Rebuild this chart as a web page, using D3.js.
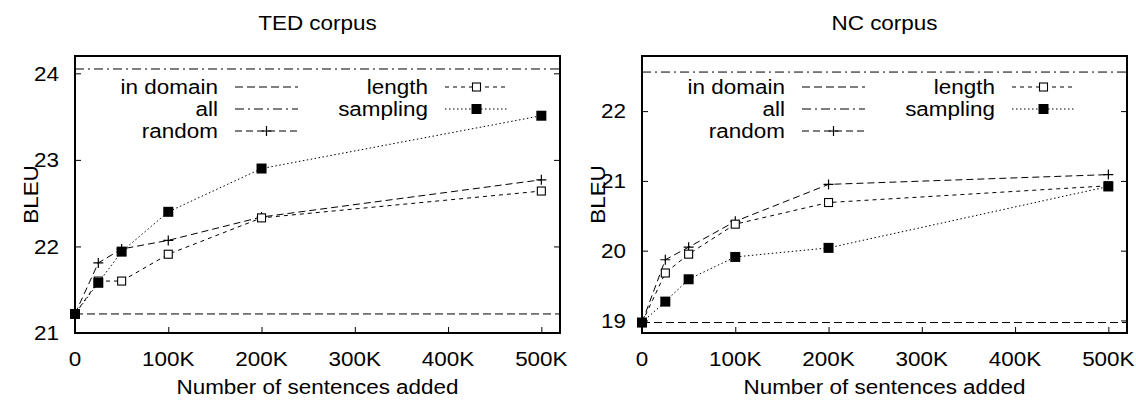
<!DOCTYPE html>
<html><head><meta charset="utf-8">
<script src="https://cdn.jsdelivr.net/npm/d3@7"></script>
<style>body{margin:0;background:#fff}svg{display:block}text{font-family:"Liberation Sans",Arial,sans-serif;fill:#000}</style>
</head><body><svg id="c" width="1136" height="405"></svg>
<script>
const xVals = [0, 25000, 50000, 100000, 200000, 500000];
const xTicks = [0, 100000, 200000, 300000, 400000, 500000];
const xTickLabels = ["0", "100K", "200K", "300K", "400K", "500K"];
const titles = ["TED corpus", "NC corpus"];
const seriesNames = ["in domain", "all", "random", "length", "sampling"];

const tedInDomain = 21.22;
const tedAll = 24.05;
const tedRandom = [21.22, 21.81, 21.97, 22.07, 22.34, 22.77];
const tedLength = [21.22, 21.60, 21.60, 21.91, 22.33, 22.64];
const tedSampling = [21.22, 21.58, 21.94, 22.40, 22.90, 23.51];
const tedYTicks = [21, 22, 23, 24];

const ncInDomain = 18.97;
const ncAll = 22.56;
const ncRandom = [18.97, 19.87, 20.05, 20.42, 20.95, 21.09];
const ncLength = [18.97, 19.68, 19.95, 20.38, 20.69, 20.93];
const ncSampling = [18.97, 19.27, 19.59, 19.91, 20.04, 20.92];
const ncYTicks = [19, 20, 21, 22];

const svg = d3.select("#c");
const SX = 1.07, FS = 21;
function txt(g, x, y, s, anchor, rot) {
  const t = g.append("text").attr("text-anchor", anchor || "start")
    .attr("dominant-baseline", "central").attr("font-size", FS).text(s);
  t.attr("transform", `translate(${x},${y})` + (rot ? ` rotate(${rot})` : "") + ` scale(${SX},1)`);
  return t;
}
const dashes = {in: "8,4", all: "9,4,2,4", random: "7,4", length: "4,4", sampling: "1.5,2.5"};

function marker(g, type, x, y) {
  if (type === "random") {
    g.append("path").attr("d", `M${x-5},${y}H${x+5}M${x},${y-5}V${y+5}`).attr("stroke", "#000").attr("stroke-width", 1.2);
  } else if (type === "length") {
    g.append("rect").attr("x", x-4).attr("y", y-4).attr("width", 8).attr("height", 8)
      .attr("fill", "#fff").attr("stroke", "#000").attr("stroke-width", 1.1);
  } else if (type === "sampling") {
    g.append("rect").attr("x", x-5).attr("y", y-5).attr("width", 10).attr("height", 10).attr("fill", "#000");
  }
}

function panel(cfg) {
  const g = svg.append("g");
  const x = d3.scaleLinear().domain([0, 520000]).range([cfg.left, cfg.left + 485]);
  const y = d3.scaleLinear().domain(cfg.ydom).range([333, 56]);
  const [x0, x1] = x.range(), [y0, y1] = y.range();

  const ax = g.append("g").attr("transform", `translate(0,${y0})`)
    .call(d3.axisBottom(x).tickValues(xTicks).tickFormat((d, i) => xTickLabels[i]).tickSizeInner(-6).tickSizeOuter(0).tickPadding(0));
  ax.select(".domain").remove();
  ax.selectAll("line").attr("stroke", "#000").attr("stroke-width", 1);
  ax.selectAll("text").remove();
  xTicks.forEach((v, i) => txt(g, x(v), 359, xTickLabels[i], "middle"));

  const ay = g.append("g").attr("transform", `translate(${x0},0)`)
    .call(d3.axisLeft(y).tickValues(cfg.yticks).tickSizeInner(-6).tickSizeOuter(0));
  ay.select(".domain").remove(); ay.selectAll("text").remove();
  ay.selectAll("line").attr("stroke", "#000");
  const ay2 = g.append("g").attr("transform", `translate(${x1},0)`)
    .call(d3.axisRight(y).tickValues(cfg.yticks).tickSizeInner(-6).tickSizeOuter(0));
  ay2.select(".domain").remove(); ay2.selectAll("text").remove();
  ay2.selectAll("line").attr("stroke", "#000");
  cfg.yticks.forEach(v => txt(g, x0 - 16, y(v), String(v), "end"));

  g.append("line").attr("x1", x0).attr("x2", x1).attr("y1", y(cfg.inDomain)).attr("y2", y(cfg.inDomain))
    .attr("stroke", "#000").attr("stroke-dasharray", dashes.in);
  g.append("line").attr("x1", x0).attr("x2", x1).attr("y1", y(cfg.all)).attr("y2", y(cfg.all))
    .attr("stroke", "#000").attr("stroke-dasharray", dashes.all);

  const line = d3.line().x((d, i) => x(xVals[i])).y(d => y(d));
  const series = [["random", cfg.random], ["length", cfg.length], ["sampling", cfg.sampling]];
  series.forEach(([name, vals]) => {
    g.append("path").attr("d", line(vals)).attr("fill", "none").attr("stroke", "#000")
      .attr("stroke-width", 1).attr("stroke-dasharray", dashes[name]);
  });

  g.append("rect").attr("x", x0).attr("y", y1).attr("width", x1 - x0).attr("height", y0 - y1)
    .attr("fill", "none").attr("stroke", "#000").attr("stroke-width", 2);

  series.forEach(([name, vals]) => vals.forEach((v, i) => marker(g, name, x(xVals[i]), y(v))));

  const rows = [87, 109, 131];
  const c1 = cfg.left + 143, c2 = cfg.left + 353, L = 63;
  const leg = [["in", seriesNames[0], c1, rows[0]], ["all", seriesNames[1], c1, rows[1]], ["random", seriesNames[2], c1, rows[2]],
               ["length", seriesNames[3], c2, rows[0]], ["sampling", seriesNames[4], c2, rows[1]]];
  leg.forEach(([k, label, cx, ry]) => {
    txt(g, cx, ry, label, "end");
    g.append("line").attr("x1", cx + 17).attr("x2", cx + 17 + L).attr("y1", ry).attr("y2", ry)
      .attr("stroke", "#000").attr("stroke-dasharray", dashes[k]);
    marker(g, k, cx + 17 + L / 2, ry);
  });

  txt(g, (x0 + x1) / 2, 23, cfg.title, "middle");
  txt(g, (x0 + x1) / 2, 387, "Number of sentences added", "middle");
  txt(g, cfg.left - 44, (y0 + y1) / 2, "BLEU", "middle", -90);
}

panel({left: 75, ydom: [21, 24.2], yticks: tedYTicks, inDomain: tedInDomain, all: tedAll,
       random: tedRandom, length: tedLength, sampling: tedSampling, title: titles[0]});
panel({left: 642, ydom: [18.82, 22.79], yticks: ncYTicks, inDomain: ncInDomain, all: ncAll,
       random: ncRandom, length: ncLength, sampling: ncSampling, title: titles[1]});
</script></body></html>
